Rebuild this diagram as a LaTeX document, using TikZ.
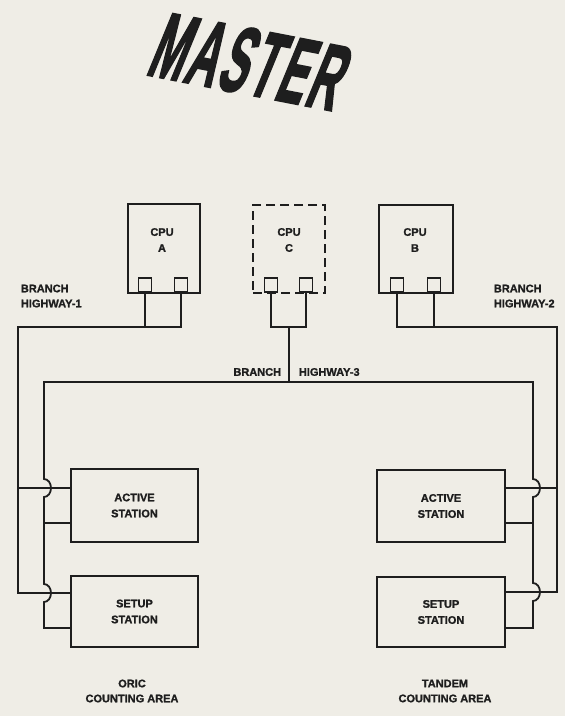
\documentclass[tikz,border=0pt]{standalone}
\usepackage{fontspec}
\setmainfont{Liberation Sans}[BoldFeatures={FakeBold=1.3}]
\newfontfamily\sellofont{Liberation Sans}[BoldFeatures={FakeBold=2.5}, LetterSpace=6]
\usepackage{tikz}
\definecolor{papel}{RGB}{239,237,230}
\definecolor{tinta}{RGB}{30,30,30}

\begin{document}
\begin{tikzpicture}[x=1pt, y=-1pt, line width=1.8pt, tinta,
    caja/.style={draw, rectangle, fill=papel, inner sep=0pt},
    puerto/.style={draw, rectangle, fill=papel, inner sep=0pt, anchor=south,
        minimum width=13pt, minimum height=14pt},
    texto/.style={align=center, inner sep=0pt, font=\bfseries\fontsize{11}{16}\selectfont},
    rotulo/.style={align=left, inner sep=0pt, font=\bfseries\fontsize{11}{15}\selectfont},
    salto/.style={start angle=-90, end angle=90, x radius=7, y radius=9}]
    \fill[papel] (0,0) rectangle (565,716);
    \useasboundingbox (0,0) rectangle (565,716);

    % Sello
    \node[inner sep=0pt, font=\sellofont\bfseries\fontsize{94}{94}\selectfont,
        rotate=-11, xslant=0.2, xscale=0.45] (sello) at (251,62) {MASTER};

    % CPUs
    \node[caja, minimum width=72pt, minimum height=89pt] (cpuA) at (164,248.5) {};
    \node[caja, dash pattern=on 9pt off 5pt, minimum width=72pt, minimum height=88pt] (cpuC) at (289,249) {};
    \node[caja, minimum width=74pt, minimum height=88pt] (cpuB) at (416,249) {};
    \node[texto] (tA) at (162,240) {CPU\\A};
    \node[texto] (tC) at (289,240) {CPU\\C};
    \node[texto] (tB) at (415,240) {CPU\\B};

    % Puertos
    \node[puerto] (pA1) at (145,293) {};
    \node[puerto] (pA2) at (181,293) {};
    \node[puerto] (pC1) at (271,293) {};
    \node[puerto] (pC2) at (306,293) {};
    \node[puerto] (pB1) at (397,293) {};
    \node[puerto] (pB2) at (434,293) {};

    % Estaciones
    \node[caja, texto, minimum width=127pt, minimum height=73pt] (actL) at (134.5,505.5) {ACTIVE\\STATION};
    \node[caja, texto, minimum width=127pt, minimum height=71pt] (setL) at (134.5,611.5) {SETUP\\STATION};
    \node[caja, texto, minimum width=128pt, minimum height=72pt] (actR) at (441,506) {ACTIVE\\STATION};
    \node[caja, texto, minimum width=128pt, minimum height=70pt] (setR) at (441,612) {SETUP\\STATION};

    % Puntos de conexion
    \coordinate (h1) at (18,327);
    \coordinate (h2) at (557,327);
    \coordinate (h3) at (289,327);
    \coordinate (h3b) at (289,382);
    \coordinate (h3L) at (44,382);
    \coordinate (h3R) at (533,382);
    \coordinate (a1L) at (71,488);
    \coordinate (a3L) at (71,523);
    \coordinate (s1L) at (71,593);
    \coordinate (s3L) at (71,628);
    \coordinate (a1R) at (505,488);
    \coordinate (a3R) at (505,523);
    \coordinate (s1R) at (505,592);
    \coordinate (s3R) at (505,628);

    % Branch highway 1
    \draw (pA2.south) |- (h1) |- (s1L);
    \draw (pA1.south) -- (pA1.south |- h1);
    \draw (h1 |- a1L) -- (a1L);

    % Branch highway 2
    \draw (pB1.south) |- (h2) |- (s1R);
    \draw (pB2.south) -- (pB2.south |- h2);
    \draw (h2 |- a1R) -- (a1R);

    % Branch highway 3
    \draw (pC1.south) |- (h3) -| (pC2.south);
    \draw (h3) -- (h3b);
    \draw (h3b) -- (h3L) -- ++(0,97) arc[salto] -- ++(0,87) arc[salto] |- (s3L);
    \draw (h3L |- a3L) -- (a3L);
    \draw (h3b) -- (h3R) -- ++(0,97) arc[salto] -- ++(0,86) arc[salto] |- (s3R);
    \draw (h3R |- a3R) -- (a3R);

    % Rotulos
    \node[rotulo, anchor=west] (bh1) at (20,296) {BRANCH\\HIGHWAY-1};
    \node[rotulo, anchor=west] (bh2) at (493,296) {BRANCH\\HIGHWAY-2};
    \node[rotulo, anchor=east] (bh3a) at (282,372) {BRANCH};
    \node[rotulo, anchor=west] (bh3b) at (298,372) {HIGHWAY-3};
    \node[rotulo, align=center] (oric) at (132,691) {ORIC\\COUNTING AREA};
    \node[rotulo, align=center] (tandem) at (445,691) {TANDEM\\COUNTING AREA};
\end{tikzpicture}
\end{document}
